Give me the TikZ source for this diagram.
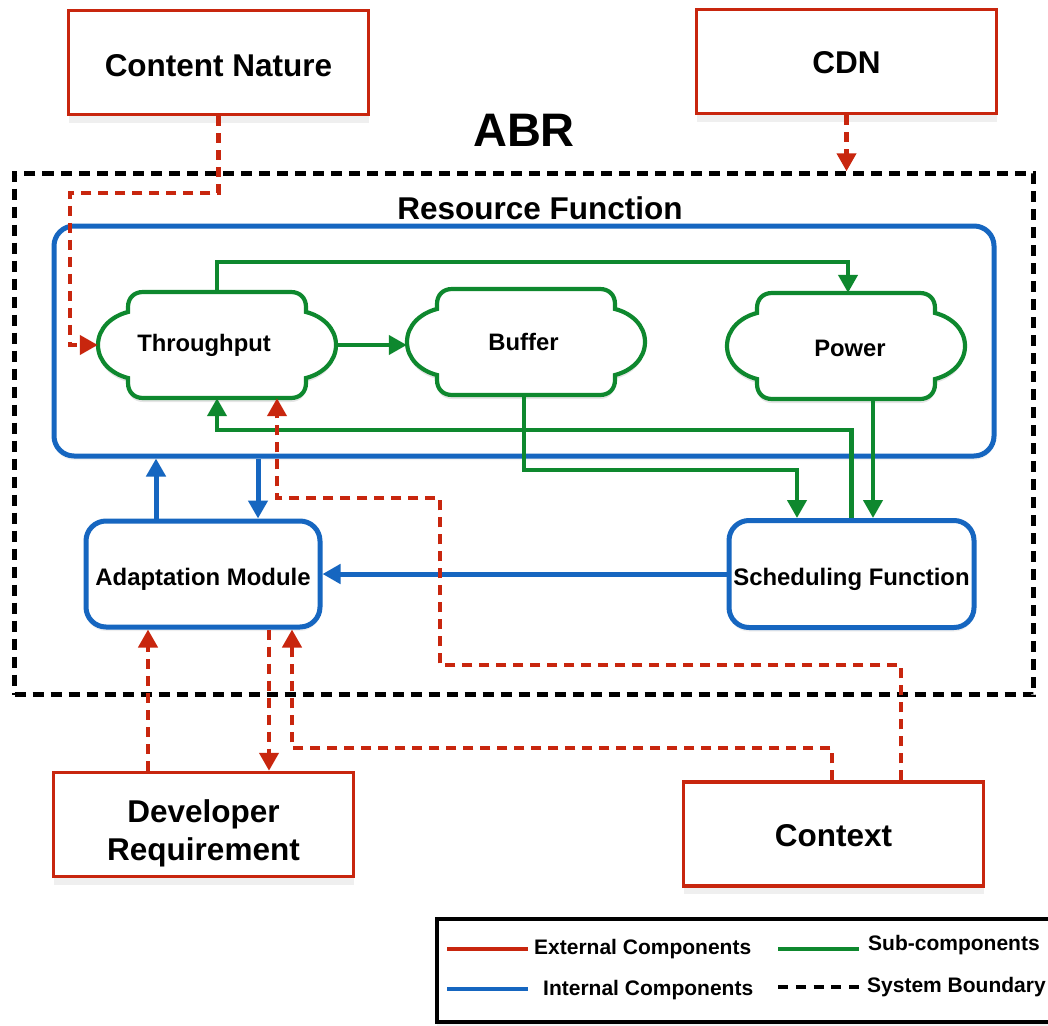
\documentclass[tikz,border=0pt]{standalone}
\usepackage{fontspec}
\setmainfont{Liberation Sans}
\usetikzlibrary{arrows.meta,shadows,calc}
\definecolor{extred}{RGB}{200,38,14}
\definecolor{subgreen}{RGB}{14,136,46}
\definecolor{intblue}{RGB}{22,102,192}
\newcommand\lowered[2]{\raisebox{-#1}[\height][\depth]{#2}}
\newcommand\cloudnode[4]{%
  \begin{scope}[shift={({#2-119},{#3-53})}]
    \fill[black,opacity=0.10,yshift=-4pt,cloudshape={238}{106}];
    \draw[subline,fill=white,cloudshape={238}{106}];
  \end{scope}
  \node[cloudtxt] (#1) at (#2,#3) {#4};}
\begin{document}
\begin{tikzpicture}[x=1pt,y=-1pt,
  cloudshape/.style 2 args={insert path={(45,0) -- ({#1-45},0)
    .. controls ({#1-36},0) and ({#1-30},6) .. ({#1-30},15) -- ({#1-30},20)
    .. controls ({#1-14},24) and (#1,36) .. (#1,{#2/2})
    .. controls (#1,{#2-36}) and ({#1-14},{#2-24}) .. ({#1-30},{#2-20}) -- ({#1-30},{#2-15})
    .. controls ({#1-30},{#2-6}) and ({#1-36},#2) .. ({#1-45},#2)
    -- (45,#2)
    .. controls (36,#2) and (30,{#2-6}) .. (30,{#2-15}) -- (30,{#2-20})
    .. controls (14,{#2-24}) and (0,{#2-36}) .. (0,{#2/2})
    .. controls (0,36) and (14,24) .. (30,20) -- (30,15)
    .. controls (30,6) and (36,0) .. (45,0) -- cycle}},
  tip/.style={-{Triangle[length=18pt,width=19pt]}},
  extline/.style={draw=extred,line width=4.2pt,dash pattern=on 10pt off 7pt,tip},
  subline/.style={draw=subgreen,line width=4.2pt},
  subarrow/.style={subline,tip},
  intarrow/.style={draw=intblue,line width=5pt,tip},
  extbox/.style={draw=extred,line width=3.5pt,fill=white,minimum width=300pt,minimum height=104pt,
    align=center,font=\fontsize{31.5}{38}\selectfont\bfseries,
    drop shadow={opacity=0.12,shadow xshift=0pt,shadow yshift=-8pt}},
  intbox/.style={draw=intblue,line width=5pt,fill=white,rounded corners=20pt,
    font=\fontsize{23.9}{28}\selectfont\bfseries,
    drop shadow={opacity=0.12,shadow xshift=0pt,shadow yshift=-4pt}},
  cloudtxt/.style={draw=none,minimum width=238pt,minimum height=106pt,font=\fontsize{23.8}{28}\selectfont\bfseries},
  legtxt/.style={anchor=west,inner sep=0pt,font=\fontsize{21}{25}\selectfont\bfseries},
  bigtxt/.style={inner sep=0pt,font=\fontsize{31.5}{38}\selectfont\bfseries}]
\useasboundingbox (0,0) rectangle (1048,1025);
\fill[white] (0,0) rectangle (1048,1025);

% external boxes
\node[extbox] (cn) at (218.5,62.5) {\lowered{3pt}{Content Nature}};
\node[extbox] (cdn) at (846.5,61.5) {\lowered{1pt}{CDN}};
\node[extbox] (dr) at (203.5,824.5) {\lowered{9pt}{\begin{tabular}{@{}c@{}}Developer\\[0pt]Requirement\end{tabular}}};
\node[extbox] (ctx) at (833.5,834) {\lowered{2pt}{Context}};

% ABR title and system boundary
\node[inner sep=0pt,font=\fontsize{47}{52}\selectfont\bfseries] (abr) at (524,130) {ABR};
\node[draw=black,line width=4.5pt,dash pattern=on 11pt off 7pt,minimum width=1019pt,minimum height=521pt] (sb) at (524,434) {};

% resource function
\node[bigtxt] (rflabel) at (540,208) {Resource Function};
\node[draw=intblue,line width=5pt,fill=white,rounded corners=20pt,minimum width=940pt,minimum height=230pt,
  drop shadow={opacity=0.1,shadow xshift=0pt,shadow yshift=-4pt}] (rf) at (524,341) {};

% clouds
\cloudnode{tp}{217}{345}{\hspace*{-26pt}Throughput}
\cloudnode{bf}{526}{342}{\hspace*{-5pt}Buffer}
\cloudnode{pw}{846}{346}{\hspace*{8pt}\lowered{2pt}{Power}}

% internal boxes
\node[intbox,minimum width=234pt,minimum height=106pt] (am) at (203,574) {\lowered{5pt}{Adaptation Module}};
\node[intbox,minimum width=245pt,minimum height=107pt] (sf) at (851.5,574) {\lowered{5pt}{Scheduling Function}};

% green sub-component connectors
\draw[subarrow] (tp.north) -- ++(0,-30) -| ([xshift=2pt]pw.north);
\draw[subarrow] (tp.east) -- (bf.west |- tp.east);
\draw[subarrow] ([xshift=-2pt]bf.south) -- ++(0,75) -| ([xshift=-54.5pt]sf.north);
\draw[subarrow] ([xshift=27pt]pw.south) -- ([xshift=27pt]pw.south |- sf.north);
\draw[subarrow] (sf.north) -- ++(0,-88) -| (tp.south);

% blue internal connectors
\draw[intarrow] ([xshift=-47pt]am.north) -- ([xshift=-47pt]am.north |- rf.south);
\draw[intarrow] ([xshift=55pt]am.north |- rf.south) -- ([xshift=55pt]am.north);
\draw[intarrow] (sf.west) -- (am.east);

% red external connectors
\coordinate (cnbend) at (70,193);
\draw[extline] (cn.south) |- (cnbend) |- (tp.west);
\draw[extline] (cdn.south) -- (cdn.south |- sb.north);
\coordinate (cxA) at (440,665);
\coordinate (cxB) at (277,498);
\draw[extline] ([xshift=67.5pt]ctx.north) |- (cxA) |- (cxB) -- (cxB |- tp.south);
\draw[extline] ([xshift=-55.5pt]dr.north) -- ([xshift=-55.5pt]dr.north |- am.south);
\draw[extline] ([xshift=66pt]am.south) -- ([xshift=66pt]am.south |- dr.north);
\coordinate (cyA) at (292,748);
\draw[extline] ([xshift=-1.5pt]ctx.north) |- (cyA) -- (cyA |- am.south);

% legend
\node[draw=black,line width=4pt,fill=white,minimum width=644pt,minimum height=103pt,
  drop shadow={opacity=0.1,shadow xshift=0pt,shadow yshift=-4pt}] (lg) at (759,970.5) {};
\node[legtxt] (lext) at (534,949) {External Components};
\node[legtxt] (lsub) at (868,945) {Sub-components};
\node[legtxt] (lint) at (543,990) {Internal Components};
\node[legtxt] (lsys) at (867,987) {System Boundary};
\draw[draw=extred,line width=4.5pt] (447,949) -- (528,949);
\draw[draw=subgreen,line width=4.5pt] (778,949) -- (859,949);
\draw[draw=intblue,line width=4.5pt] (447,989) -- (528,989);
\draw[draw=black,line width=4.5pt,dash pattern=on 10pt off 7.8pt] (778,987) -- (859,987);
\end{tikzpicture}
\end{document}
